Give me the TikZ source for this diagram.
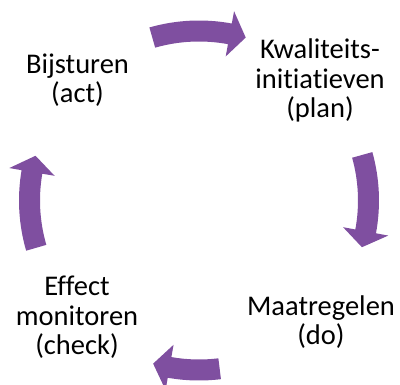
\documentclass[tikz,border=0pt]{standalone}
\usepackage{fontspec}
\setmainfont{Carlito}[Ligatures={NoCommon,NoContextual}]
\definecolor{cyclepurple}{RGB}{127,79,160}
\tikzset{
  lbl/.style={align=center, inner sep=0pt, anchor=base, font=\fontsize{28.5}{29.5}\selectfont, text=black},
  arrowfill/.style={fill=cyclepurple, draw=none}
}
\newcommand\cyclearrow[3]{%
  \fill[arrowfill] (#1:180pt) arc[start angle=#1, end angle=#2, radius=180pt]
    -- (#2:192.5pt) -- (#3:169.5pt) -- (#2:146.5pt) -- (#2:159pt)
    arc[start angle=#2, end angle=#1, radius=159pt] -- cycle;}
\begin{document}
\begin{tikzpicture}[x=1pt,y=1pt]
\useasboundingbox (0,0) rectangle (400,385);
\begin{scope}[shift={(199,184.5)}]
  \cyclearrow{106}{79.5}{74}
  \cyclearrow{15.6}{-10.5}{-16}
  \cyclearrow{277}{260}{254.3}
  \cyclearrow{196.2}{170.3}{164.7}
\end{scope}
\node[lbl] (plan) at (320,267) {Kwaliteits-\\initiatieven\\(plan)};
\node[lbl] (do) at (321,40) {Maatregelen\\(do)};
\node[lbl] (check) at (77,30) {Effect\\monitoren\\(check)};
\node[lbl] (act) at (77.5,282) {Bijsturen\\(act)};
\end{tikzpicture}
\end{document}
